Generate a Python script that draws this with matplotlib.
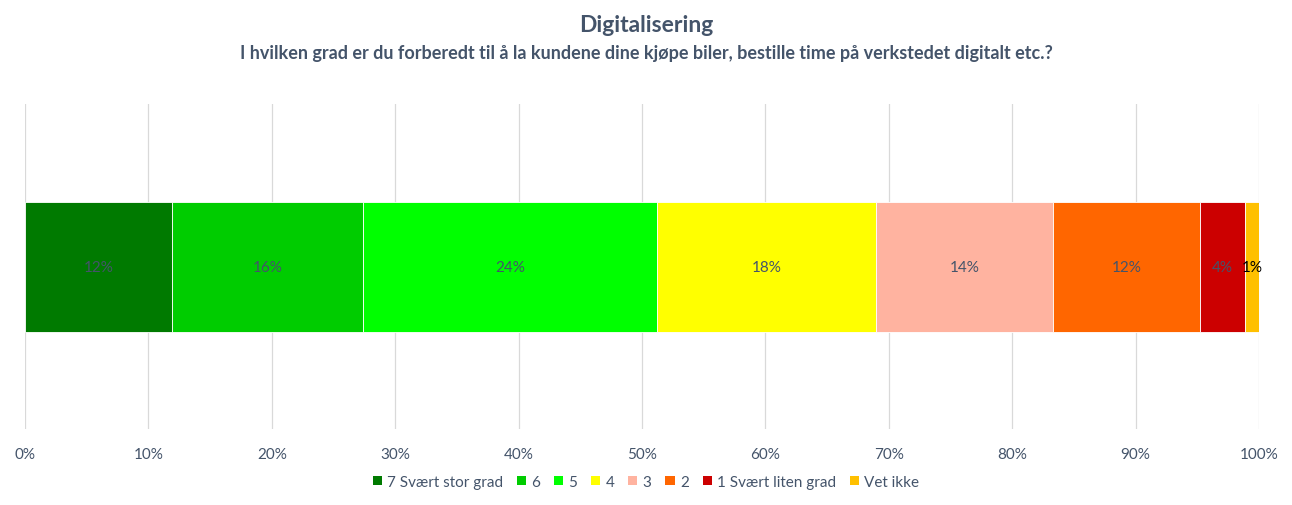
import matplotlib
matplotlib.use("Agg")
import matplotlib.pyplot as plt
from matplotlib.patches import Patch

categories = ["7 Svært stor grad", "6", "5", "4", "3", "2", "1 Svært liten grad", "Vet ikke"]
values = [11.9, 15.5, 23.8, 17.8, 14.3, 11.9, 3.7, 1.1]
labels = ["12%", "16%", "24%", "18%", "14%", "12%", "4%", "1%"]
colors = ["#007A00", "#00CC00", "#00FF00", "#FFFF00", "#FFB3A0", "#FF6600", "#CC0000", "#FFC000"]
label_colors = ["#44546A"] * 7 + ["#000000"]
ticks = [0, 10, 20, 30, 40, 50, 60, 70, 80, 90, 100]
tick_labels = [f"{t}%" for t in ticks]

plt.rcParams['font.family'] = ['Lato', 'DejaVu Sans']
txt = "#44546A"

fig = plt.figure(figsize=(12.92, 5.06), dpi=100)
ax = fig.add_axes([25/1292, 1-430/506, (1259-25)/1292, (430-105)/506])

left = 0
for v, c, lab, lc in zip(values, colors, labels, label_colors):
    ax.barh(0, v, left=left, height=0.4, color=c, edgecolor="white", linewidth=0.6, zorder=3)
    ax.text(left + v/2, 0, lab, ha="center", va="center", fontsize=11, color=lc, zorder=4)
    left += v

ax.set_xlim(0, 100)
ax.set_ylim(-0.5, 0.5)
ax.set_xticks(ticks)
ax.set_xticklabels(tick_labels, fontsize=11, color=txt)
ax.set_yticks([])
ax.tick_params(axis="x", length=0, pad=13)
for s in ax.spines.values():
    s.set_visible(False)
ax.grid(axis="x", color="#D9D9D9", linewidth=0.9, zorder=0)

fig.text(0.5, 1-26/506, "Digitalisering", ha="center", va="center", fontsize=16.5, fontweight="bold", color=txt)
fig.text(0.5, 1-53/506, "I hvilken grad er du forberedt til å la kundene dine kjøpe biler, bestille time på verkstedet digitalt etc.?",
         ha="center", va="center", fontsize=13, fontweight="bold", color=txt)

handles = [Patch(facecolor=c, edgecolor="none") for c in colors]
leg = fig.legend(handles, categories, loc="center", bbox_to_anchor=(0.5, 1-483/506), ncol=8, frameon=False,
                 fontsize=11, handlelength=0.6, handleheight=0.6, handletextpad=0.35, columnspacing=0.9)
for t in leg.get_texts():
    t.set_color(txt)

fig.savefig("out.png", dpi=100)
